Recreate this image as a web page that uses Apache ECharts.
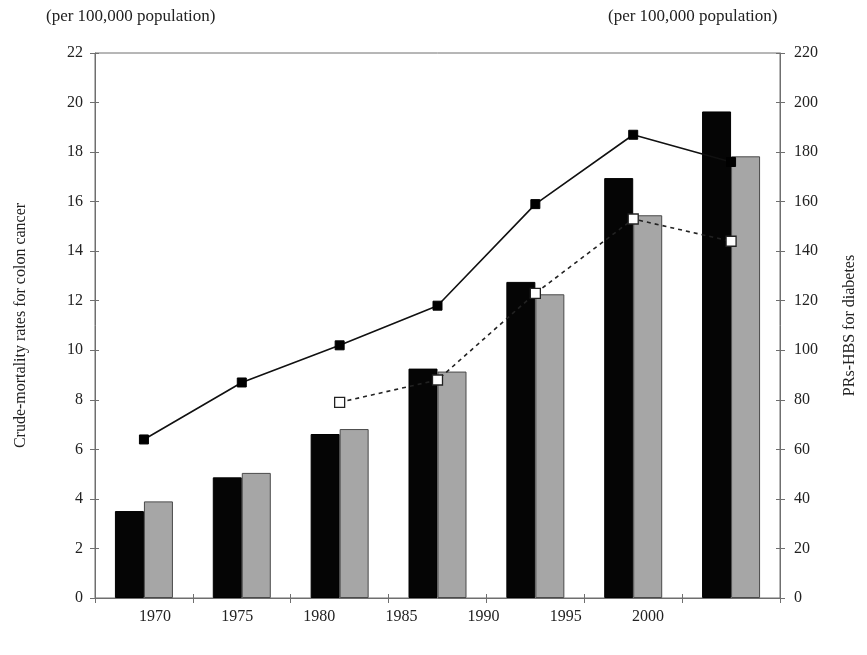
<!DOCTYPE html>
<html>
<head>
<meta charset="utf-8">
<script src="https://cdn.jsdelivr.net/npm/echarts@6/dist/echarts.min.js"></script>
<style>
html,body{margin:0;padding:0;background:#fff;}
#chart{width:867px;height:655px;}
</style>
</head>
<body>
<div id="chart"></div>
<script>
// ---- data ----
var categories = ['1970', '1975', '1980', '1985', '1990', '1995', '2000'];
var xTickLabels = [1970, 1975, 1980, 1985, 1990, 1995, 2000];
var colonBlack = [3.51, 4.87, 6.62, 9.26, 12.76, 16.95, 19.64];
var colonGray = [3.90, 5.05, 6.82, 9.14, 12.26, 15.45, 17.83];
var diabetesSolid = [64, 87, 102, 118, 159, 187, 176];
var diabetesDashed = [null, null, 79, 88, 123, 153, 144];
var unitLabel = '(per 100,000 population)';
var leftTitle = 'Crude-mortality rates for colon cancer';
var rightTitle = 'PRs-HBS for diabetes';

var FONT = 'Liberation Serif';
var AX = '#6f6f6f';
var chart = echarts.init(document.getElementById('chart'), null, {renderer: 'canvas'});

var option = {
  backgroundColor: '#ffffff',
  animation: false,
  textStyle: {fontFamily: FONT, color: '#222'},
  graphic: [
    {type: 'text', left: 46, top: 8, style: {text: unitLabel, font: '17px "Liberation Serif"', fill: '#222'}},
    {type: 'text', left: 608, top: 8, style: {text: unitLabel, font: '17px "Liberation Serif"', fill: '#222'}}
  ],
  grid: {left: 95, right: 87, top: 53, bottom: 57, show: true, borderColor: AX, borderWidth: 1, backgroundColor: 'transparent'},
  xAxis: [
    {
      type: 'category', data: categories, boundaryGap: true,
      axisLine: {show: true, lineStyle: {color: AX, width: 1}},
      axisTick: {show: true, length: 5, lineStyle: {color: AX}},
      axisLabel: {show: false},
      splitLine: {show: false}
    },
    {
      type: 'category', data: categories, boundaryGap: true, position: 'bottom',
      axisLine: {show: false},
      axisTick: {show: true, inside: true, length: 4, lineStyle: {color: AX}},
      axisLabel: {show: false},
      splitLine: {show: false}
    },
    {
      type: 'value', position: 'bottom', min: 1966.35, max: 2008.04,
      axisLine: {show: false}, axisTick: {show: false}, splitLine: {show: false},
      axisLabel: {show: true, customValues: xTickLabels, margin: 11, fontFamily: FONT, fontSize: 16, color: '#222',
        formatter: function (v) { return String(v); }}
    }
  ],
  yAxis: [
    {
      type: 'value', position: 'left', min: 0, max: 22, interval: 2,
      name: leftTitle, nameLocation: 'middle', nameGap: 66, nameRotate: 90,
      nameTextStyle: {fontFamily: FONT, fontSize: 16, color: '#222'},
      axisLine: {show: true, lineStyle: {color: AX, width: 1}},
      axisTick: {show: true, length: 5, lineStyle: {color: AX}},
      axisLabel: {margin: 12, fontFamily: FONT, fontSize: 16, color: '#222'},
      splitLine: {show: false}
    },
    {
      type: 'value', position: 'right', min: 0, max: 220, interval: 20,
      name: rightTitle, nameLocation: 'middle', nameGap: 62, nameRotate: 90,
      nameTextStyle: {fontFamily: FONT, fontSize: 16, color: '#222'},
      axisLine: {show: true, lineStyle: {color: AX, width: 1}},
      axisTick: {show: true, length: 5, lineStyle: {color: AX}},
      axisLabel: {margin: 14, fontFamily: FONT, fontSize: 16, color: '#222'},
      splitLine: {show: false}
    },
    {
      type: 'value', position: 'left', min: 0, max: 22, interval: 2,
      axisLine: {show: false}, axisLabel: {show: false}, splitLine: {show: false},
      axisTick: {show: true, inside: true, length: 4, lineStyle: {color: AX}}
    },
    {
      type: 'value', position: 'right', min: 0, max: 220, interval: 20,
      axisLine: {show: false}, axisLabel: {show: false}, splitLine: {show: false},
      axisTick: {show: true, inside: true, length: 4, lineStyle: {color: AX}}
    }
  ],
  series: [
    {
      type: 'bar', name: 'colon A', data: colonBlack, xAxisIndex: 0, yAxisIndex: 0,
      barWidth: 29, barGap: '0%',
      itemStyle: {color: '#050505', borderColor: '#000', borderWidth: 1}
    },
    {
      type: 'bar', name: 'colon B', data: colonGray, xAxisIndex: 0, yAxisIndex: 0,
      barWidth: 29, barGap: '0%',
      itemStyle: {color: '#a6a6a6', borderColor: '#4a4a4a', borderWidth: 1}
    },
    {
      type: 'line', name: 'diabetes A', data: diabetesSolid, xAxisIndex: 0, yAxisIndex: 1,
      symbol: 'rect', symbolSize: 9, z: 5,
      lineStyle: {color: '#111', width: 1.6, type: 'solid'},
      itemStyle: {color: '#000', borderColor: '#000', borderWidth: 1}
    },
    {
      type: 'line', name: 'diabetes B', data: diabetesDashed, xAxisIndex: 0, yAxisIndex: 1,
      symbol: 'rect', symbolSize: 10, z: 5, connectNulls: false,
      lineStyle: {color: '#222', width: 1.6, type: [4, 4]},
      itemStyle: {color: '#fff', borderColor: '#222', borderWidth: 1.3}
    }
  ]
};
chart.setOption(option);
</script>
</body>
</html>
